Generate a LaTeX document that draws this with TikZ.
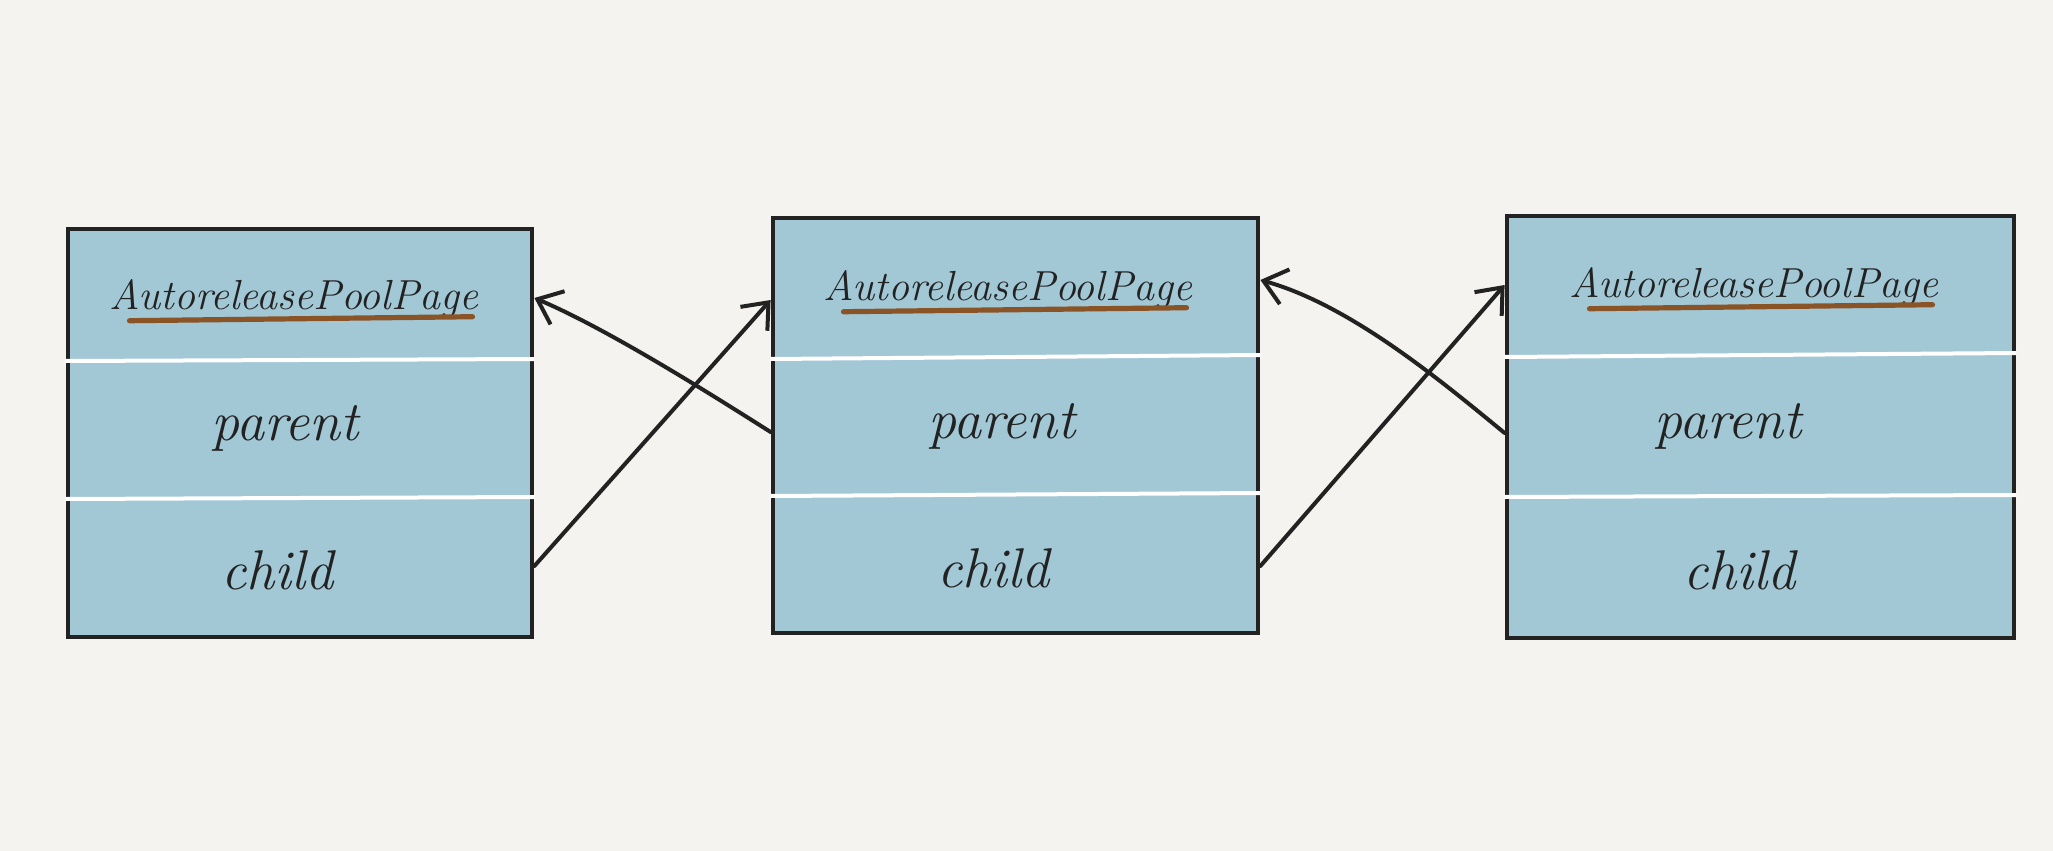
\documentclass[tikz,border=0pt]{standalone}
\usepackage{fontspec}
\usetikzlibrary{arrows.meta,fit,calc}
\definecolor{bgcol}{HTML}{F4F3EF}
\definecolor{boxfill}{HTML}{A2C7D5}
\definecolor{inkcol}{HTML}{222222}
\definecolor{brownline}{HTML}{8A5426}
\tikzset{
  pagebox/.style={draw=inkcol, fill=boxfill, line width=2.4pt, inner sep=0pt, rectangle},
  divider/.style={draw=white, line width=2pt},
  titletext/.style={font=\fontsize{21}{25}\selectfont\itshape, text=inkcol, inner sep=0pt},
  fieldtext/.style={font=\fontsize{28}{33}\selectfont\itshape, text=inkcol, inner sep=0pt},
  uline/.style={draw=brownline, line width=2.6pt, line cap=round},
  link/.style={draw=inkcol, line width=2pt, line cap=round,
    -{Straight Barb[length=11pt,width=18pt,line width=2pt]}}
}
\begin{document}
\begin{tikzpicture}[x=0.5pt,y=-0.5pt]
\useasboundingbox (0,0) rectangle (2053,851);
\fill[bgcol] (0,0) rectangle (2053,851);

% boxes
\node[pagebox, fit={(68,229) (532,637)}] (b1) {};
\node[pagebox, fit={(773,218) (1258,633)}] (b2) {};
\node[pagebox, fit={(1507,216) (2014,638)}] (b3) {};

% dividers
\draw[divider] (b1.west |- 0,361) -- (b1.east |- 0,359);
\draw[divider] (b1.west |- 0,499) -- (b1.east |- 0,497);
\draw[divider] (b2.west |- 0,359) -- (b2.east |- 0,355);
\draw[divider] (b2.west |- 0,496) -- (b2.east |- 0,493);
\draw[divider] (b3.west |- 0,357) -- (b3.east |- 0,353);
\draw[divider] (b3.west |- 0,497) -- (b3.east |- 0,495);

% titles
\node[titletext] (t1) at (294,299) {AutoreleasePoolPage};
\node[titletext] (t2) at (1008,290) {AutoreleasePoolPage};
\node[titletext] (t3) at (1754,287) {AutoreleasePoolPage};
\draw[uline] ($(t1.base west)+(20,11)$) -- ($(t1.base east)+(-6,7)$);
\draw[uline] ($(t2.base west)+(20,11)$) -- ($(t2.base east)+(-6,7)$);
\draw[uline] ($(t3.base west)+(20,11)$) -- ($(t3.base east)+(-6,7)$);

% fields
\node[fieldtext] (p1) at (285,428) {parent};
\node[fieldtext] (p2) at (1002,426) {parent};
\node[fieldtext] (p3) at (1728,426) {parent};
\node[fieldtext] (c1) at (277,570) {child};
\node[fieldtext] (c2) at (993,568) {child};
\node[fieldtext] (c3) at (1739,570) {child};

% connector end points on box edges
\coordinate (b2pout) at (b2.west |- 0,432);
\coordinate (b1in)   at (b1.east |- 0,298);
\coordinate (b1cout) at (b1.east |- 0,566);
\coordinate (b2in)   at (b2.west |- 0,300);
\coordinate (b3pout) at (b3.west |- 0,433);
\coordinate (b2rin)  at (b2.east |- 0,280);
\coordinate (b2cout) at (b2.east |- 0,566);
\coordinate (b3in)   at (b3.west |- 0,285);

\draw[link] (b2pout) .. controls (720,400) and (610,330) .. (b1in);
\draw[link] (b1cout) -- (b2in);
\draw[link] (b3pout) .. controls (1440,380) and (1350,305) .. (b2rin);
\draw[link] (b2cout) -- (b3in);
\end{tikzpicture}
\end{document}
